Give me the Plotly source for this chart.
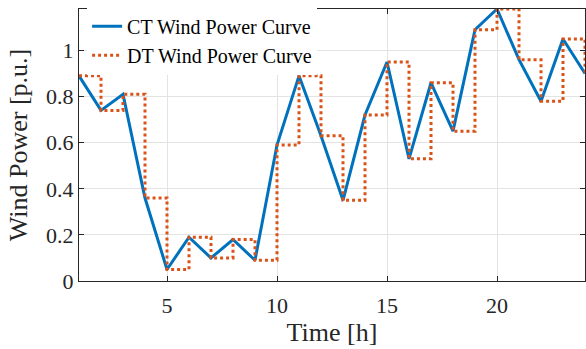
import plotly.graph_objects as go

hours = list(range(1, 25))
wind_power = [0.89, 0.74, 0.81, 0.36, 0.05, 0.19, 0.10, 0.18, 0.09, 0.59,
              0.89, 0.63, 0.35, 0.72, 0.95, 0.53, 0.86, 0.65, 1.09, 1.18,
              0.96, 0.78, 1.05, 0.90]
x_ticks = [5, 10, 15, 20]
y_ticks = [0, 0.2, 0.4, 0.6, 0.8, 1.0]
y_tick_labels = ["0", "0.2", "0.4", "0.6", "0.8", "1"]

FONT = "Liberation Serif"

fig = go.Figure()
fig.add_trace(go.Scatter(
    x=hours, y=wind_power, mode="lines", name="CT Wind Power Curve",
    line=dict(color="#0072BD", width=3)))
fig.add_trace(go.Scatter(
    x=hours, y=wind_power, mode="lines", name="DT Wind Power Curve",
    line=dict(color="#D95319", width=3, dash="dot", shape="hv")))

axis_common = dict(
    showline=True, linecolor="#262626", linewidth=1, mirror="ticks",
    ticks="inside", ticklen=5, tickcolor="#262626",
    showgrid=True, gridcolor="#E3E3E3", gridwidth=1, zeroline=False,
    tickfont=dict(family=FONT, size=22, color="#262626"),
    automargin=False,
)

fig.update_xaxes(range=[1, 24], tickvals=x_ticks, ticklabelstandoff=5,
                 title=dict(text="Time [h]", font=dict(family=FONT, size=26, color="#262626"), standoff=4),
                 **axis_common)
fig.update_yaxes(range=[0, 1.18], tickvals=y_ticks, ticktext=y_tick_labels,
                 title=dict(text="Wind Power [p.u.]", font=dict(family=FONT, size=26, color="#262626"), standoff=10),
                 **axis_common)

fig.update_layout(
    width=586, height=349,
    margin=dict(l=79, r=1, t=9, b=68),
    plot_bgcolor="white", paper_bgcolor="white",
    font=dict(family=FONT, color="#262626"),
    legend=dict(x=0.016, y=1.008, xanchor="left", yanchor="top",
                bgcolor="white", borderwidth=0,
                font=dict(family=FONT, size=20, color="#000000"),
                tracegroupgap=0, itemwidth=30),
    showlegend=True,
)

fig.write_html("out.html", config={"displayModeBar": False},
               post_script="document.body.style.margin='0';document.body.style.overflow='hidden';")
